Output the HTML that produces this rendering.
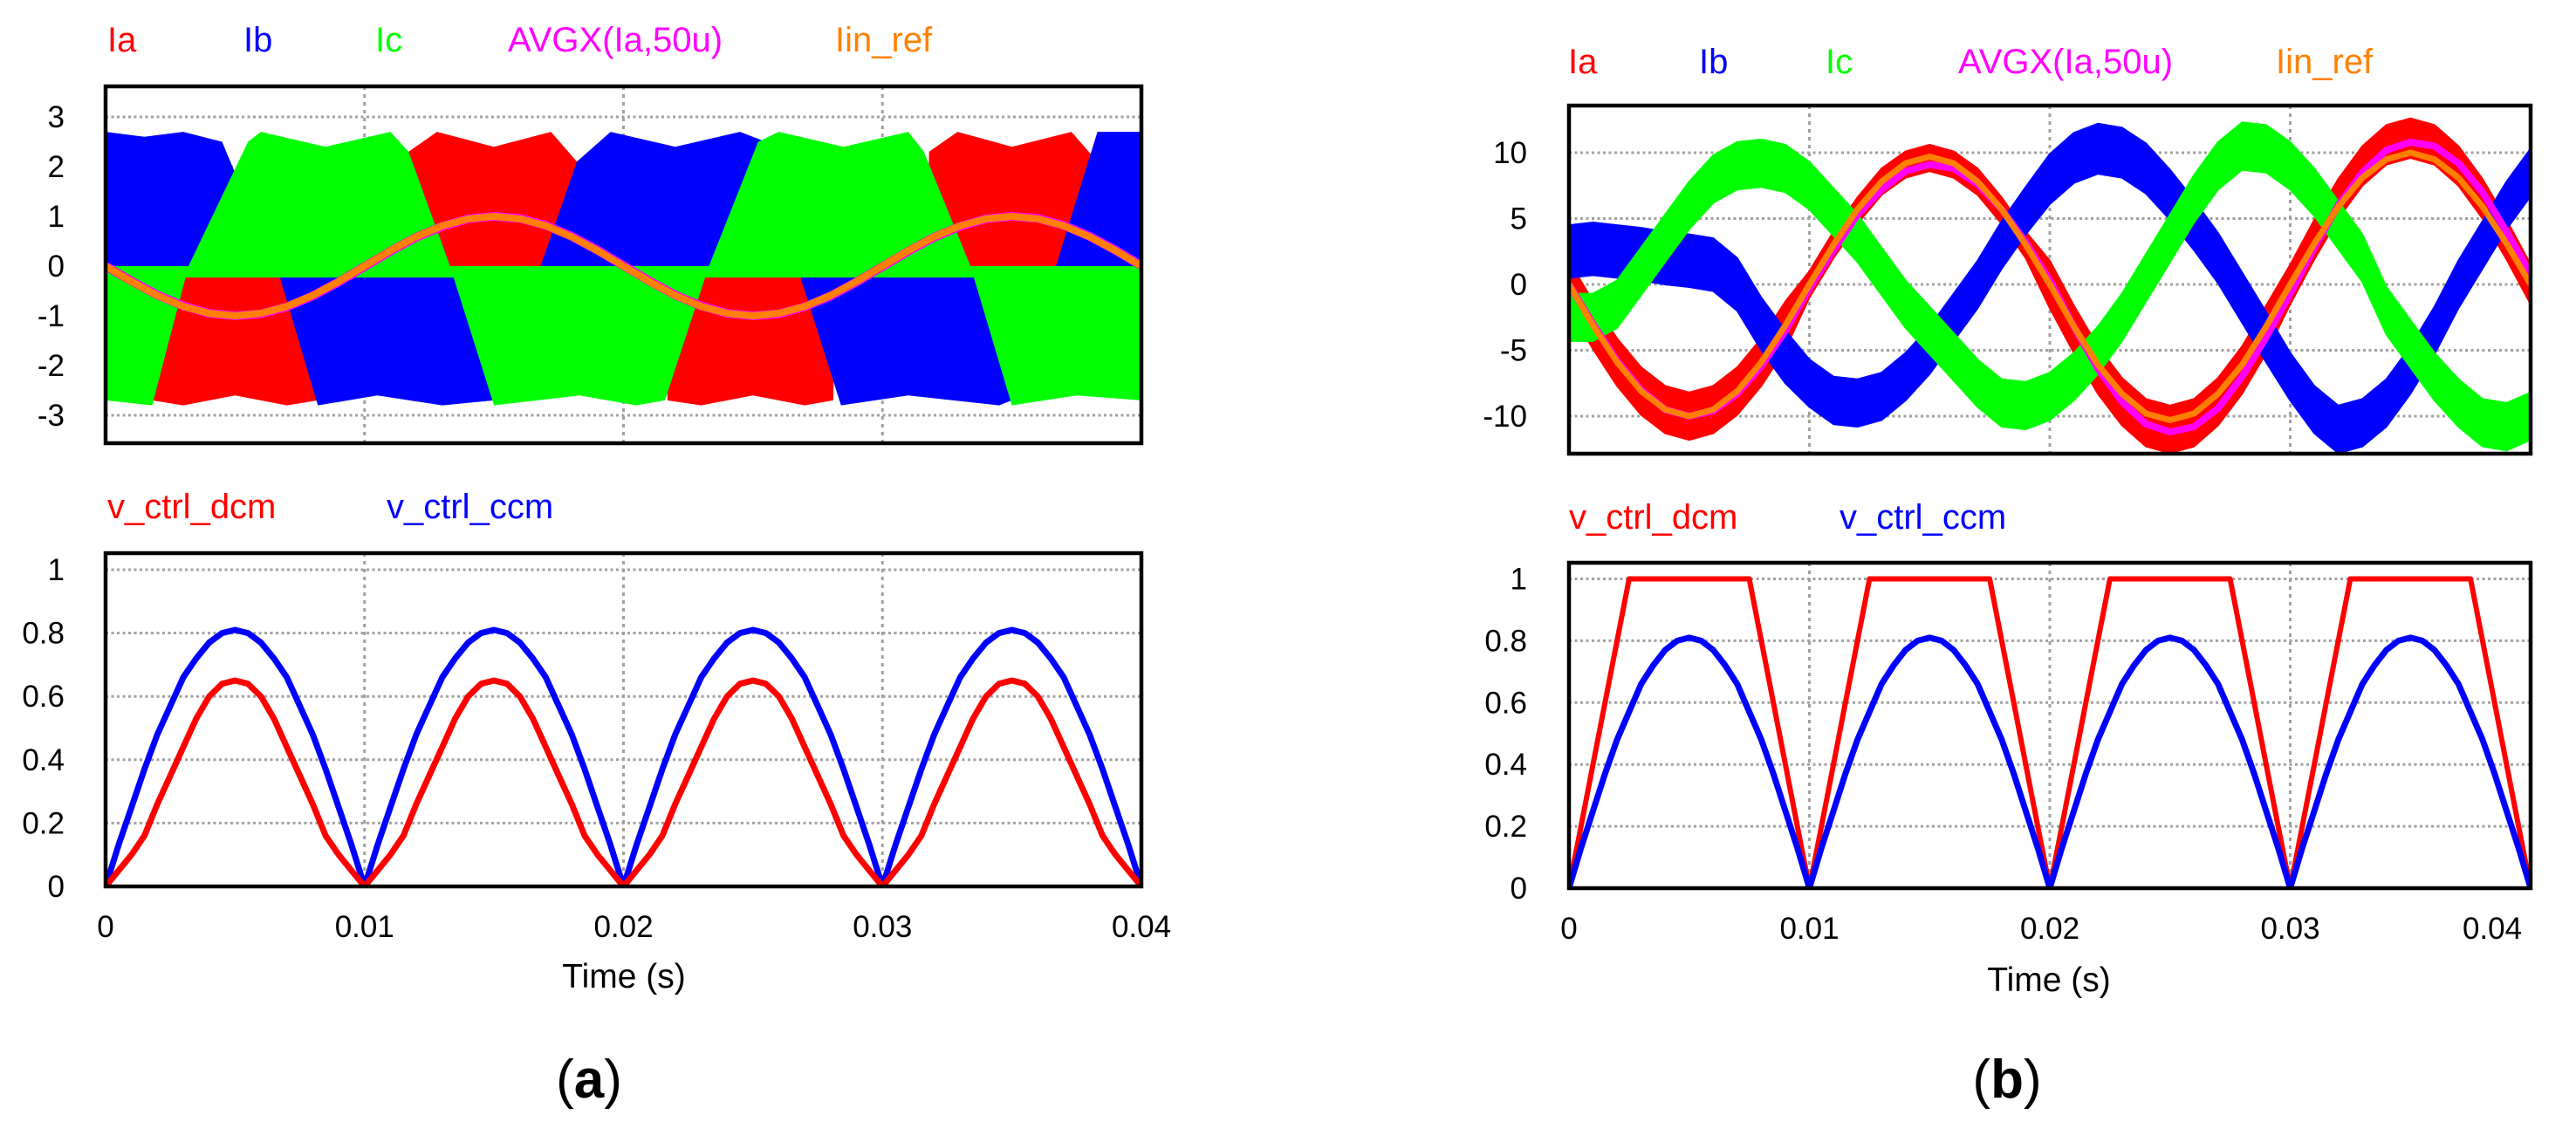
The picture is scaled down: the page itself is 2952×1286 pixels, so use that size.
<!DOCTYPE html>
<html><head><meta charset="utf-8"><style>
html,body{margin:0;padding:0;background:#fff;}
svg{display:block;}
text{font-family:"Liberation Sans",Arial,sans-serif;}
</style></head>
<body>
<svg id="fig" width="2952" height="1286" viewBox="0 0 2952 1286" xmlns="http://www.w3.org/2000/svg">
<rect width="2952" height="1286" fill="#fff"/>
<g id="layer"></g>
</svg>
<script>
// ---------------- DATA ----------------
// Panel (a) top: phase current envelopes (breakpoints, time in s, value in A)
const iaT=[0,0.0017,0.0018,0.003,0.005,0.007,0.0082,0.0083,0.0116,0.0117,0.0128,0.015,0.0172,0.0182,0.0183,0.0216,0.0217,0.023,0.025,0.027,0.0281,0.0282,0.0317,0.0318,0.0329,0.035,0.0373,0.0383,0.0384,0.04];
const iaV=[0,0,-2.7,-2.8,-2.6,-2.8,-2.7,0,0,2.3,2.7,2.4,2.7,2.1,0,0,-2.7,-2.8,-2.6,-2.8,-2.7,0,0,2.3,2.7,2.4,2.7,2.1,0,0];
const ibT=[0,0.0015,0.003,0.0045,0.0065,0.0066,0.0082,0.0105,0.013,0.015,0.0167,0.0168,0.0182,0.0195,0.022,0.0245,0.0255,0.0266,0.0267,0.0284,0.031,0.0345,0.035,0.0366,0.0367,0.0383,0.04];
const ibV=[2.7,2.6,2.7,2.5,0,0,-2.8,-2.6,-2.8,-2.7,0,0,2.1,2.7,2.4,2.7,2.5,0,0,-2.8,-2.6,-2.8,-2.7,0,0,2.7,2.7];
const icT=[0,0.0018,0.0032,0.0055,0.006,0.0085,0.011,0.0117,0.0133,0.015,0.0183,0.0205,0.0216,0.0233,0.0252,0.026,0.0285,0.031,0.0316,0.0334,0.035,0.0375,0.04];
const icV=[-2.7,-2.8,0,2.5,2.7,2.4,2.7,2.3,0,-2.8,-2.6,-2.8,-2.7,0,2.5,2.7,2.4,2.7,2.3,0,-2.8,-2.6,-2.7];
const icBand=-0.23;
// reference / average, sampled every 1 ms
const tMs=[0,0.001,0.002,0.003,0.004,0.005,0.006,0.007,0.008,0.009,0.01,0.011,0.012,0.013,0.014,0.015,0.016,0.017,0.018,0.019,0.02,0.021,0.022,0.023,0.024,0.025,0.026,0.027,0.028,0.029,0.03,0.031,0.032,0.033,0.034,0.035,0.036,0.037,0.038,0.039,0.04];
const refA=[0,-.31,-.59,-.81,-.95,-1,-.95,-.81,-.59,-.31,0,.31,.59,.81,.95,1,.95,.81,.59,.31,0,-.31,-.59,-.81,-.95,-1,-.95,-.81,-.59,-.31,0,.31,.59,.81,.95,1,.95,.81,.59,.31,0];
const avgA=[0,-.3,-.58,-.8,-.95,-1,-.96,-.82,-.6,-.32,-.01,.3,.58,.8,.95,1,.96,.82,.6,.32,.01,-.3,-.58,-.8,-.95,-1,-.96,-.82,-.6,-.32,-.01,.3,.58,.8,.95,1,.96,.82,.6,.32,.01];
// Panel (a)/(b) bottom, sampled every 0.5 ms
const t05=[];for(let i=0;i<=80;i++)t05.push(i*0.0005);
const dcmA=[0,.05,.1,.16,.26,.35,.44,.53,.6,.64,.65,.64,.6,.53,.44,.35,.26,.16,.1,.05,0,.05,.1,.16,.26,.35,.44,.53,.6,.64,.65,.64,.6,.53,.44,.35,.26,.16,.1,.05,0,.05,.1,.16,.26,.35,.44,.53,.6,.64,.65,.64,.6,.53,.44,.35,.26,.16,.1,.05,0,.05,.1,.16,.26,.35,.44,.53,.6,.64,.65,.64,.6,.53,.44,.35,.26,.16,.1,.05,0];
const ccmA=[0,.13,.25,.37,.48,.57,.66,.72,.77,.8,.81,.8,.77,.72,.66,.57,.48,.37,.25,.13,0,.13,.25,.37,.48,.57,.66,.72,.77,.8,.81,.8,.77,.72,.66,.57,.48,.37,.25,.13,0,.13,.25,.37,.48,.57,.66,.72,.77,.8,.81,.8,.77,.72,.66,.57,.48,.37,.25,.13,0,.13,.25,.37,.48,.57,.66,.72,.77,.8,.81,.8,.77,.72,.66,.57,.48,.37,.25,.13,0];
const dcmB=[0,.2,.4,.6,.8,1,1,1,1,1,1,1,1,1,1,1,.8,.6,.4,.2,0,.2,.4,.6,.8,1,1,1,1,1,1,1,1,1,1,1,.8,.6,.4,.2,0,.2,.4,.6,.8,1,1,1,1,1,1,1,1,1,1,1,.8,.6,.4,.2,0,.2,.4,.6,.8,1,1,1,1,1,1,1,1,1,1,1,.8,.6,.4,.2,0];
const ccmB=ccmA.slice();
// Panel (b) top: band centres (1 ms) and half widths per half-cycle
const iaB=[0,-3.1,-5.9,-8.1,-9.5,-10,-9.5,-8.1,-5.9,-3.1,0,3.0,5.6,7.8,9.1,9.6,9.1,7.8,5.6,3.0,0,-3.4,-6.5,-8.9,-10.5,-11,-10.5,-8.9,-6.5,-3.4,0,3.4,6.5,9.0,10.6,11.1,10.6,9.0,6.5,3.4,0];
const ibB=[2.5,2.7,2.5,2.3,2.0,1.8,1.5,0,-3,-5.5,-7.5,-8.8,-9,-8.5,-7,-5,-2.5,0,3,5.6,8,9.6,10.3,10,8.8,6.8,4.5,2,-1,-4,-7,-9.5,-11,-10.5,-9,-6.5,-3.5,0,3,6,8.5];
const icB=[-2.5,-2.5,-1.5,1,3.5,6,8,9,9.2,8.8,7.5,5.5,3.5,1,-1.5,-3.5,-5.5,-7.5,-9,-9.2,-8.5,-7,-5,-2.5,0.5,3.5,6.5,9,10.5,10.3,9,7,4.5,2,-2,-4.5,-7,-9,-10.5,-10.8,-10];
const iaHW=[1.8,1.0,1.8,1.5];
const ibHW=[2.0,1.8,1.9,1.8];
const icHW=[1.8,1.8,1.8,1.8];
const refB=[0,-3.1,-5.9,-8.1,-9.5,-10,-9.5,-8.1,-5.9,-3.1,0,3.0,5.7,7.8,9.2,9.7,9.2,7.8,5.7,3.0,0,-3.2,-6.1,-8.3,-9.8,-10.3,-9.8,-8.3,-6.1,-3.2,0,3.1,5.9,8.1,9.5,10,9.5,8.1,5.9,3.1,0];
const avgB=[0,-3,-5.8,-8,-9.5,-10,-9.6,-8.3,-6.2,-3.5,-0.3,2.6,5.3,7.2,8.6,9.1,8.8,7.6,5.7,3.2,0.3,-3.2,-6.4,-8.9,-10.6,-11.2,-10.8,-9.4,-7.0,-4.0,-0.7,2.8,6.0,8.5,10.2,10.8,10.5,9.2,7.0,4.0,0.8];
// ticks
const xTicks=[0,0.01,0.02,0.03,0.04];
const xTickLabels=["0","0.01","0.02","0.03","0.04"];
const yTicksAtop=[3,2,1,0,-1,-2,-3];
const yTicksBot=[0,0.2,0.4,0.6,0.8,1];
const yTickLabelsBot=["0","0.2","0.4","0.6","0.8","1"];
const yTicksBtop=[10,5,0,-5,-10];

// ---------------- DRAW ----------------
const NS="http://www.w3.org/2000/svg";
const layer=document.getElementById('layer');
function mk(tag,attrs,parent){const e=document.createElementNS(NS,tag);for(const k in attrs)e.setAttribute(k,attrs[k]);(parent||layer).appendChild(e);return e;}
function txt(s,x,y,size,fill,anchor,parent){const e=mk('text',{x:x,y:y,'font-size':size,fill:fill,'text-anchor':anchor||'start'},parent);e.textContent=s;return e;}

function makePlot(name,L,R,T,B,t1,v0,vScale,yTicks,yLabels,labX,showX,xLabelLast){
  const g=mk('g',{});
  
  
  const X=t=>L+(t/0.04)*(t1);
  const Y=v=>v0-v*vScale;
  const clip=mk('clipPath',{id:'clip-'+name},g);
  mk('rect',{x:L,y:T,width:R-L,height:B-T},clip);
  // grid
  const grid=mk('g',{},g);
  
  
  for(let i=1;i<xTicks.length;i++){const x=X(xTicks[i]);if(x<R-2)mk('line',{x1:x,y1:T,x2:x,y2:B,stroke:'#a0a0a0','stroke-width':3,'stroke-dasharray':'4 5'},grid);}
  yTicks.forEach(v=>{const y=Y(v);if(y>T+2&&y<B-2)mk('line',{x1:L,y1:y,x2:R,y2:y,stroke:'#a0a0a0','stroke-width':3,'stroke-dasharray':'3 3.5'},grid);});
  const series=mk('g',{'clip-path':'url(#clip-'+name+')'},g);
  // y tick labels
  yTicks.forEach((v,i)=>{const e=txt(yLabels[i],labX,Y(v)+12,35,'#000','end',g);
    
    });
  if(showX){xTicks.forEach((t,i)=>{let x=X(t);let anchor='middle';if(i===xTicks.length-1&&xLabelLast)x=xLabelLast;
    const e=txt(xTickLabels[i],x,B+58,35,'#000',anchor,g);
    
    });}
  return {g,series,X,Y,L,R,T,B};
}
function frame(p){
  const f=mk('rect',{x:p.L,y:p.T,width:p.R-p.L,height:p.B-p.T,fill:'none',stroke:'#000','stroke-width':4.5},p.g);
  
  
}
function envArea(p,T,V,color,name){
  let d='M'+p.X(T[0])+','+p.Y(0);
  for(let i=0;i<T.length;i++)d+=' L'+p.X(T[i]).toFixed(1)+','+p.Y(V[i]).toFixed(1);
  d+=' L'+p.X(T[T.length-1])+','+p.Y(0)+' Z';
  const e=mk('path',{d:d,fill:color},p.series);
  
  
}
function line(p,T,V,color,w,name){
  let d='';
  for(let i=0;i<T.length;i++)d+=(i?' L':'M')+p.X(T[i]).toFixed(1)+','+p.Y(V[i]).toFixed(1);
  const e=mk('path',{d:d,fill:'none',stroke:color,'stroke-width':w,'stroke-linejoin':'round'},p.series);
  
  
}
function band(p,T,C,HW,color,name){
  let up='',lo='';
  for(let i=0;i<T.length;i++){const h=HW[Math.min(3,Math.floor(i/10))];up+=(i?' L':'M')+p.X(T[i]).toFixed(1)+','+p.Y(C[i]+h).toFixed(1);}
  for(let i=T.length-1;i>=0;i--){const h=HW[Math.min(3,Math.floor(i/10))];lo+=' L'+p.X(T[i]).toFixed(1)+','+p.Y(C[i]-h).toFixed(1);}
  const e=mk('path',{d:up+lo+' Z',fill:color,stroke:color,'stroke-width':2},p.series);
  
  
}
function legend(items,y){
  items.forEach(it=>{const e=txt(it[0],it[1],y,40,it[2],'start');
    
    });
}

// Panel (a) top
const pa1=makePlot('plot-a-currents',121,1308,99,508,1187,305,57,yTicksAtop,yTicksAtop.map(String),74,false);
envArea(pa1,iaT,iaV,'#ff0000','series-ia');
envArea(pa1,ibT,ibV,'#0000ff','series-ib');
envArea(pa1,icT,icV,'#00ff00','series-ic');
{const r=mk('rect',{x:pa1.L,y:pa1.Y(0),width:pa1.R-pa1.L,height:pa1.Y(icBand)-pa1.Y(0),fill:'#00ff00'},pa1.series);

}
line(pa1,tMs,avgA,'#ff00ff',10,'series-avgx');
line(pa1,tMs,refA,'#ff8000',8,'series-iin-ref');
frame(pa1);
legend([["Ia",123,'#ff0000','ia'],["Ib",279,'#0000ff','ib'],["Ic",430,'#00ff00','ic'],["AVGX(Ia,50u)",582,'#ff00ff','avgx'],["Iin_ref",957,'#ff8000','iin-ref']],59);

// Panel (a) bottom
const pa2=makePlot('plot-a-vctrl',121,1308,634,1016,1187,1016,363,yTicksBot,yTickLabelsBot,74,true);
line(pa2,t05,ccmA,'#0000ff',7,'series-v-ctrl-ccm');
line(pa2,t05,dcmA,'#ff0000',7,'series-v-ctrl-dcm');
frame(pa2);
legend([["v_ctrl_dcm",123,'#ff0000','v-ctrl-dcm'],["v_ctrl_ccm",443,'#0000ff','v-ctrl-ccm']],594);
{const e=txt('Time (s)',715,1132,39,'#000','middle');}
{const e=mk('text',{x:675,y:1258,'font-size':62,'font-family':'"Liberation Serif",serif','text-anchor':'middle',fill:'#000'});
e.innerHTML='(<tspan font-weight="bold">a</tspan>)';}

// Panel (b) top
const pb1=makePlot('plot-b-currents',1798,2900,121,520,1102,326,15.1,yTicksBtop,yTicksBtop.map(String),1750,false);
band(pb1,tMs,iaB,iaHW,'#ff0000','series-ia-b');
band(pb1,tMs,ibB,ibHW,'#0000ff','series-ib-b');
band(pb1,tMs,icB,icHW,'#00ff00','series-ic-b');
line(pb1,tMs,avgB,'#ff00ff',8,'series-avgx-b');
line(pb1,tMs,refB,'#ff8000',7,'series-iin-ref-b');
frame(pb1);
legend([["Ia",1797,'#ff0000','ia-b'],["Ib",1947,'#0000ff','ib-b'],["Ic",2092,'#00ff00','ic-b'],["AVGX(Ia,50u)",2244,'#ff00ff','avgx-b'],["Iin_ref",2608,'#ff8000','iin-ref-b']],84);

// Panel (b) bottom
const pb2=makePlot('plot-b-vctrl',1798,2900,645,1018,1102,1018,354.5,yTicksBot,yTickLabelsBot,1750,true,2856);
line(pb2,t05,dcmB,'#ff0000',6,'series-v-ctrl-dcm-b');
line(pb2,t05,ccmB,'#0000ff',7,'series-v-ctrl-ccm-b');
frame(pb2);
legend([["v_ctrl_dcm",1798,'#ff0000','v-ctrl-dcm-b'],["v_ctrl_ccm",2108,'#0000ff','v-ctrl-ccm-b']],606);
{const e=txt('Time (s)',2348,1136,39,'#000','middle');}
{const e=mk('text',{x:2300,y:1258,'font-size':62,'font-family':'"Liberation Serif",serif','text-anchor':'middle',fill:'#000'});
e.innerHTML='(<tspan font-weight="bold">b</tspan>)';}
</script>
</body></html>
